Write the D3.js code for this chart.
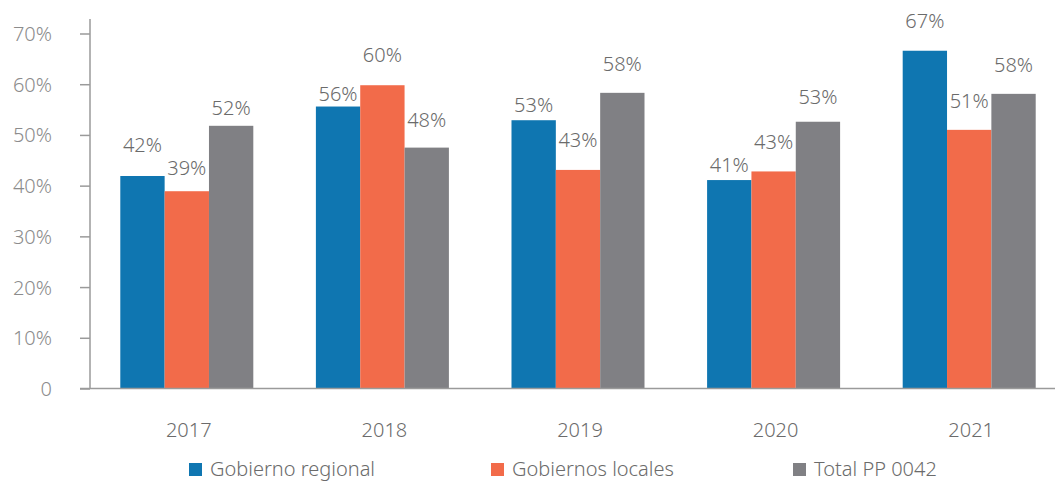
<!DOCTYPE html>
<html>
<head>
<meta charset="utf-8">
<script src="https://cdn.jsdelivr.net/npm/d3@7"></script>
<style>
  body { margin: 0; background: #fff; }
  text { font-family: "Noto Sans", "Open Sans", sans-serif; font-weight: 300; }
</style>
</head>
<body>
<div id="vizArea"></div>
<script>
// data (percent)
const years = ["2017", "2018", "2019", "2020", "2021"];
const series = ["Gobierno regional", "Gobiernos locales", "Total PP 0042"];
const gobiernoRegional = [41.9, 55.6, 52.9, 41.1, 66.6];
const gobiernosLocales = [38.9, 59.8, 43.1, 42.8, 51.0];
const totalPP0042 = [51.8, 47.5, 58.3, 52.6, 58.1];
const yTicks = [0, 10, 20, 30, 40, 50, 60, 70];

const colors = ["#0f76b1", "#f26b4a", "#808084"];
// how far above its bar each value label sits (px), per series
const labelRaise = [
  [24, 6, 8, 8, 23],
  [16, 23, 23, 22, 22],
  [11, 21, 22, 18, 22]
];

const values = [gobiernoRegional, gobiernosLocales, totalPP0042];

const width = 1055, height = 482;

const svg = d3.select("#vizArea")
  .append("svg")
  .attr("width", width)
  .attr("height", height);

const x = d3.scaleBand()
  .domain(years)
  .range([89, 1067])
  .paddingInner(0.32)
  .paddingOuter(0.16);

const xs = d3.scaleBand()
  .domain(series)
  .range([0, x.bandwidth()]);

const y = d3.scaleLinear()
  .domain([0, 70])
  .range([388.5, 33.5]);

// y axis
const yAxis = svg.append("g")
  .attr("transform", "translate(90,0)")
  .call(d3.axisLeft(y).tickValues(yTicks).tickSize(10).tickPadding(28)
    .tickFormat(d => d === 0 ? "0" : d + "%"));
yAxis.select(".domain").remove();
yAxis.selectAll(".tick line").attr("stroke", "#9a9a9a").attr("stroke-width", 1.5);
yAxis.selectAll(".tick text")
  .attr("fill", "#8c8c8c")
  .style("font-size", "20px")
  .attr("dy", "0.35em");

svg.append("line")
  .attr("x1", 90).attr("x2", 90)
  .attr("y1", 19).attr("y2", y(0))
  .attr("stroke", "#9a9a9a").attr("stroke-width", 1.5);

// bars
const groups = svg.selectAll("g.year")
  .data(years)
  .join("g")
  .attr("class", "year")
  .attr("transform", d => `translate(${x(d)},0)`);

groups.selectAll("rect")
  .data((d, i) => series.map((s, j) => ({ s, j, v: values[j][i], i })))
  .join("rect")
  .attr("x", d => xs(d.s))
  .attr("width", xs.bandwidth())
  .attr("y", d => y(d.v))
  .attr("height", d => y(0) - y(d.v))
  .attr("fill", d => colors[d.j]);

groups.selectAll("text.val")
  .data((d, i) => series.map((s, j) => ({ s, j, v: values[j][i], i })))
  .join("text")
  .attr("class", "val")
  .attr("x", d => xs(d.s) + xs.bandwidth() / 2)
  .attr("y", d => y(d.v) - labelRaise[d.j][d.i])
  .attr("text-anchor", "middle")
  .attr("fill", "#6b6b6b")
  .style("font-size", "20px")
  .text(d => Math.round(d.v) + "%");

// baseline
svg.append("line")
  .attr("x1", 80).attr("x2", width)
  .attr("y1", y(0)).attr("y2", y(0))
  .attr("stroke", "#9a9a9a").attr("stroke-width", 1.5);

// year labels
svg.selectAll("text.yr")
  .data(years)
  .join("text")
  .attr("class", "yr")
  .attr("x", d => x(d) + x.bandwidth() / 2 + 2)
  .attr("y", 437)
  .attr("text-anchor", "middle")
  .attr("fill", "#6b6b6b")
  .style("font-size", "20px")
  .text(d => d);

// legend
const legend = svg.selectAll("g.leg")
  .data(series)
  .join("g")
  .attr("class", "leg")
  .attr("transform", (d, i) => `translate(${189 + i * 302},463)`);
legend.append("rect")
  .attr("width", 13).attr("height", 13)
  .attr("fill", (d, i) => colors[i]);
legend.append("text")
  .attr("x", 21).attr("y", 13)
  .attr("fill", "#6b6b6b")
  .style("font-size", "20px")
  .text(d => d);
</script>
</body>
</html>
